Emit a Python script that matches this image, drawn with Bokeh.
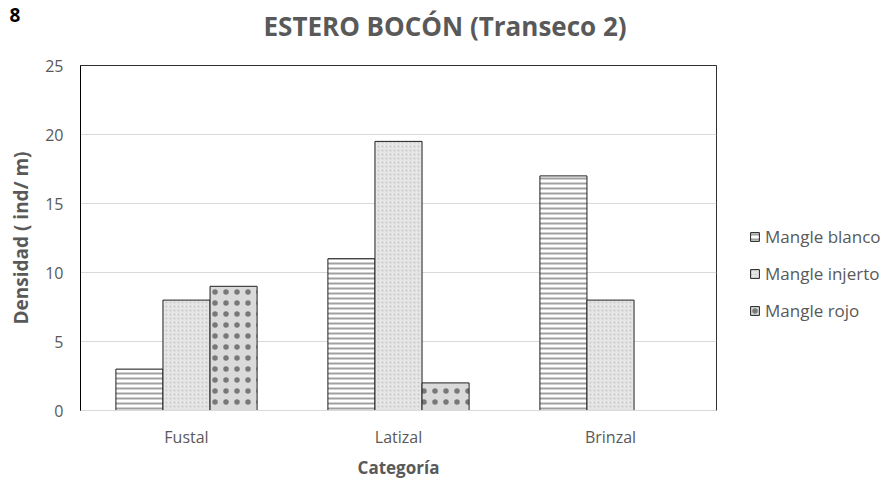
from bokeh.plotting import figure
from bokeh.models import FactorRange, Legend, LegendItem, Title, FixedTicker, ColumnDataSource
from bokeh.transform import dodge
from bokeh.embed import file_html
from bokeh.resources import INLINE

categories = ["Fustal", "Latizal", "Brinzal"]
series_names = ["Mangle blanco", "Mangle injerto", "Mangle rojo"]
blanco = [3, 11, 17]
injerto = [8, 19.5, 8]
rojo = [9, 2, 0]
y_ticks = [0, 5, 10, 15, 20, 25]

FONT = "Open Sans"
GRAY = "#595959"

src = ColumnDataSource(dict(cat=categories, blanco=blanco, injerto=injerto, rojo=rojo))

p = figure(frame_width=636, frame_height=345, x_range=FactorRange(*categories), y_range=(0, 25),
           output_backend="svg", toolbar_location=None,
           min_border_left=80, min_border_right=172, min_border_top=65, min_border_bottom=72)
p.title_location = None

bw = 0.222
styles = [
    dict(fill_color="white", hatch_pattern="horizontal_line", hatch_color="#a0a0a0", hatch_scale=5, hatch_weight=2),
    dict(fill_color="#e6e6e6", hatch_pattern="dot", hatch_color="#c8c8c8", hatch_scale=4, hatch_weight=1),
    dict(fill_color="#dadada", hatch_pattern="dot", hatch_color="#787878", hatch_scale=11, hatch_weight=5),
]
offsets = [-bw, 0, bw]
cols = ["blanco", "injerto", "rojo"]
renderers = []
for col, off, st in zip(cols, offsets, styles):
    r = p.vbar(x=dodge("cat", off, range=p.x_range), top=col, width=bw, source=src,
               line_color="#202020", line_width=1, **st)
    renderers.append(r)

legend = Legend(items=[LegendItem(label=n, renderers=[r]) for n, r in zip(series_names, renderers)],
                location=(33, 88), label_text_font=FONT, label_text_font_size="17px",
                label_text_color=GRAY, glyph_width=11, glyph_height=11, spacing=14,
                label_height=22, border_line_color=None, background_fill_alpha=0,
                padding=0, margin=0, label_standoff=5)
p.add_layout(legend, "right")

p.yaxis.ticker = FixedTicker(ticks=y_ticks)
p.yaxis.axis_label = "Densidad ( ind/ m)"
p.xaxis.axis_label = "Categoría"
for ax in (p.xaxis, p.yaxis):
    ax.axis_label_text_font = FONT
    ax.axis_label_text_font_size = "17px"
    ax.axis_label_text_font_style = "bold"
    ax.axis_label_text_color = GRAY
    ax.major_label_text_font = FONT
    ax.major_label_text_font_size = "16px"
    ax.major_label_text_color = GRAY
    ax.major_tick_line_color = None
    ax.minor_tick_line_color = None
p.yaxis.axis_label_text_font_size = "19px"
p.yaxis.axis_line_color = "black"
p.xaxis.axis_line_color = "#d9d9d9"
p.yaxis.major_label_standoff = 11
p.xaxis.major_label_standoff = 9
p.yaxis.axis_label_standoff = 8
p.xaxis.axis_label_standoff = 5

p.xgrid.grid_line_color = None
p.ygrid.grid_line_color = "#d9d9d9"
p.outline_line_color = "#303030"
p.outline_line_width = 1

spacer = Title(text=" ", align="left", text_font=FONT, text_font_size="10px",
               text_color="white", standoff=6)
main = Title(text="ESTERO BOCÓN (Transeco 2)", align="left", offset=183, text_font=FONT,
             text_font_size="26px", text_font_style="bold", text_color=GRAY, standoff=0)
num = Title(text="8", align="left", offset=-71, text_font=FONT, text_font_size="19px",
            text_font_style="bold", text_color="black", standoff=-32)
p.add_layout(spacer, "above")
p.add_layout(main, "above")
p.add_layout(num, "above")

open("out.html", "w").write(file_html(p, INLINE))
